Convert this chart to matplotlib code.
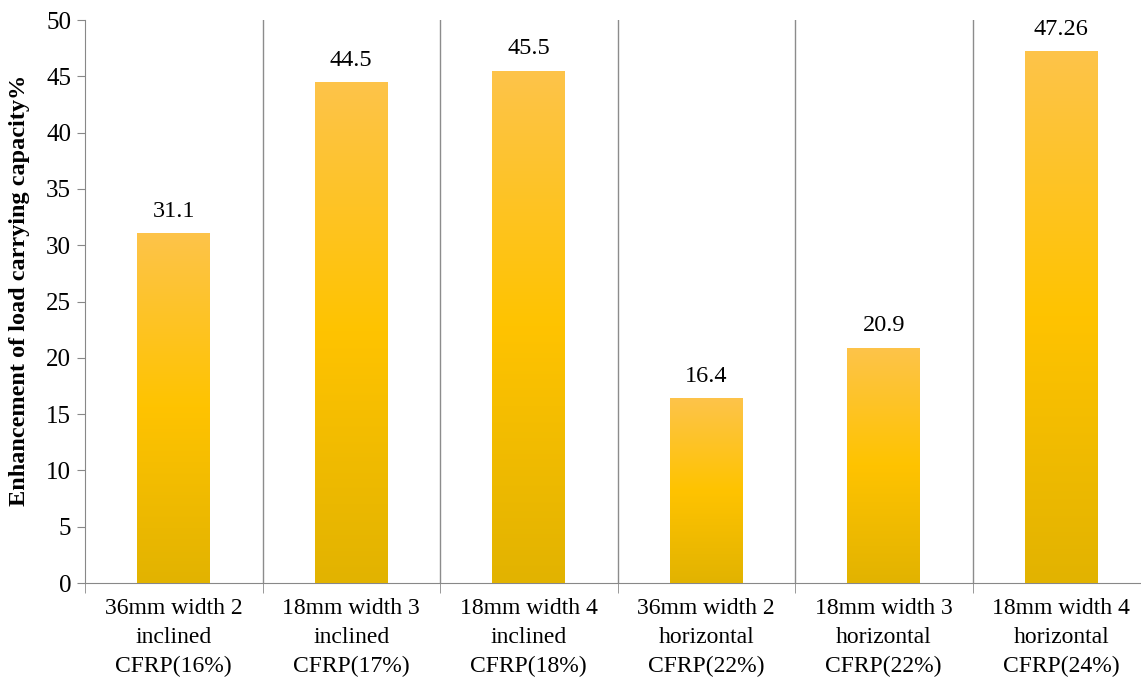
import matplotlib.pyplot as plt
import numpy as np
from matplotlib.colors import LinearSegmentedColormap

categories = [
    "36mm width 2\ninclined\nCFRP(16%)",
    "18mm width 3\ninclined\nCFRP(17%)",
    "18mm width 4\ninclined\nCFRP(18%)",
    "36mm width 2\nhorizontal\nCFRP(22%)",
    "18mm width 3\nhorizontal\nCFRP(22%)",
    "18mm width 4\nhorizontal\nCFRP(24%)",
]
values = [31.1, 44.5, 45.5, 16.4, 20.9, 47.26]
value_labels = ["31.1", "44.5", "45.5", "16.4", "20.9", "47.26"]
y_ticks = [0, 5, 10, 15, 20, 25, 30, 35, 40, 45, 50]

plt.rcParams['font.family'] = ['Liberation Serif', 'DejaVu Serif']

fig = plt.figure(figsize=(11.41, 6.8), dpi=100)
ax = fig.add_axes([85 / 1141, 97 / 680, 1065 / 1141, 563 / 680])

# gold gradient: lighter at the top, darker at the base
grad = LinearSegmentedColormap.from_list(
    "gold", [(0.0, "#E2B300"), (0.5, "#FFC300"), (1.0, "#FDC44A")])

x = np.arange(len(values))
bars = ax.bar(x, values, width=0.41, color="none", edgecolor="none", zorder=3)
g = np.linspace(0, 1, 256).reshape(-1, 1)
for b in bars:
    x0, w, h = b.get_x(), b.get_width(), b.get_height()
    im = ax.imshow(g, cmap=grad, origin="lower", aspect="auto",
                   extent=[x0, x0 + w, 0, h], zorder=3)
    im.set_clip_path(b)

for xi, v, lab in zip(x, values, value_labels):
    ax.text(xi, v + 1.0, lab, ha="center", va="bottom", fontsize=17.5)

ax.set_xlim(-0.5, len(values) - 0.5)
ax.set_ylim(0, 50)
ax.set_yticks(y_ticks)
ax.set_xticks(x)
ax.set_xticklabels(categories, fontsize=17, linespacing=1.5)
ax.tick_params(axis="y", labelsize=18, length=6, color="#888888", pad=4)
ax.tick_params(axis="x", length=0, pad=11)

# category separators with short ticks below the axis
bounds = np.arange(len(values) + 1) - 0.5
for bx in bounds[1:-1]:
    ax.axvline(bx, color="#8c8c8c", lw=1, zorder=1)
ax.set_xticks(bounds, minor=True)
ax.tick_params(axis="x", which="minor", length=7, color="#888888")

for s in ["top", "right"]:
    ax.spines[s].set_visible(False)
ax.spines["left"].set_color("#888888")
ax.spines["bottom"].set_color("#888888")

ax.set_ylabel("Enhancement of load carrying capacity%", fontsize=17.5,
              fontweight="bold")
ax.yaxis.set_label_coords(-55 / 1065, 0.52)

fig.savefig("out.png", dpi=100)
